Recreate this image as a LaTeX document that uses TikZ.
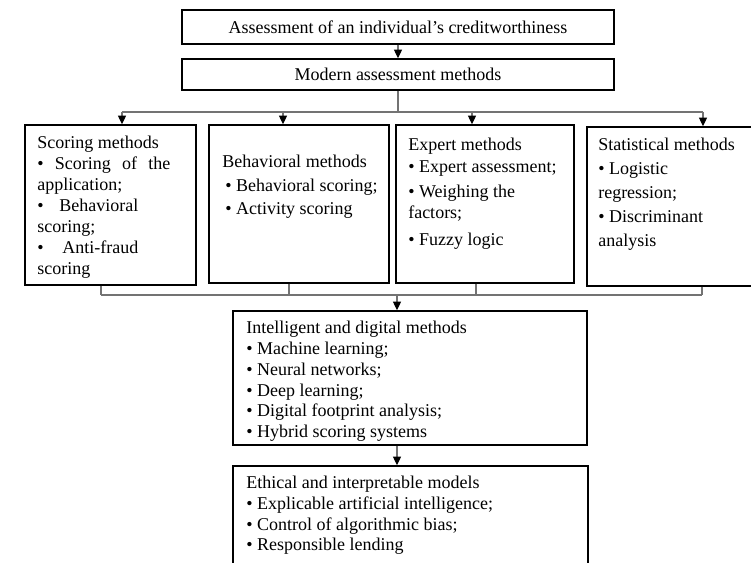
\documentclass[tikz,border=0pt]{standalone}
\usepackage{fontspec}
\setmainfont{Liberation Serif}
\usetikzlibrary{arrows.meta}
\begin{document}
\begin{tikzpicture}[x=0.75pt,y=-0.75pt,
  box/.style={draw=black, line width=1.1pt, inner sep=0pt, fill=white},
  conn/.style={draw=black!55, line width=0.9pt},
  arr/.style={conn, -{Triangle[color=black,length=6.5pt,width=6pt]}},
  txt/.style={anchor=north west, inner sep=0pt, align=left, font=\fontsize{13.5}{15.75}\selectfont},
  ctxt/.style={inner sep=0pt, font=\fontsize{13.5}{15}\selectfont},
]
\useasboundingbox (0,0) rectangle (751,562);
\clip (0,0) rectangle (751,562);
\fill[white] (0,0) rectangle (751,562);

% boxes
\node[box, minimum width=324pt, minimum height=25.5pt] (top) at (398,27) {};
\node[box, minimum width=324pt, minimum height=23.25pt] (modern) at (398,74.5) {};
\node[box, minimum width=128.25pt, minimum height=120pt] (A) at (110.5,205) {};
\node[box, minimum width=135pt, minimum height=118.5pt] (B) at (299,204) {};
\node[box, minimum width=133.5pt, minimum height=118.5pt] (C) at (485,204) {};
\node[box, minimum width=137.25pt, minimum height=119.25pt] (D) at (678.5,206.5) {};
\node[box, minimum width=265.5pt, minimum height=100.5pt] (E) at (410,378) {};
\node[box, minimum width=266.25pt, minimum height=100.5pt] (F) at (410.5,533) {};

% texts
\node[ctxt] (toptxt) at (top) {Assessment of an individual’s creditworthiness};
\node[ctxt] (modtxt) at (modern) {Modern assessment methods};

\node[txt] (Atxt) at (37,136) {Scoring methods\\
\makebox[99.75pt][s]{\textbullet\ Scoring of the}\\
application;\\
\makebox[75.75pt][s]{\textbullet\ \ Behavioral}\\
scoring;\\
\makebox[75.75pt][s]{\textbullet\ \ Anti-fraud}\\
scoring};

\node[txt, font=\fontsize{13.5}{17.6}\selectfont] (Btxt) at (222,155) {Behavioral methods\\
\,\textbullet\ Behavioral scoring;\\
\,\textbullet\ Activity scoring};

\node[txt] (Ctxt) at (408,138) {Expert methods\\[0.75pt]
\textbullet\ Expert assessment;\\[3pt]
\textbullet\ Weighing the\\
factors;\\[4.5pt]
\textbullet\ Fuzzy logic};

\node[txt, font=\fontsize{13.5}{18}\selectfont] (Dtxt) at (598,138) {Statistical methods\\
\textbullet\ Logistic\\
regression;\\
\textbullet\ Discriminant\\
analysis};

\node[txt, font=\fontsize{13.5}{15.6}\selectfont] (Etxt) at (246,321) {Intelligent and digital methods\\
\textbullet\ Machine learning;\\
\textbullet\ Neural networks;\\
\textbullet\ Deep learning;\\
\textbullet\ Digital footprint analysis;\\
\textbullet\ Hybrid scoring systems};

\node[txt, font=\fontsize{13.5}{15.5}\selectfont] (Ftxt) at (246,476) {Ethical and interpretable models\\
\textbullet\ Explicable artificial intelligence;\\
\textbullet\ Control of algorithmic bias;\\
\textbullet\ Responsible lending};

% connectors top
\draw[arr] (top) -- (modern);
\coordinate (b1) at (122,112);
\coordinate (b2) at (283,112);
\coordinate (b3) at (472,112);
\coordinate (b4) at (703,112);
\draw[conn] (modern.south) -- (modern.south |- b1);
\draw[conn] (b1) -- (b4);
\draw[arr] (b1) -- (b1 |- A.north);
\draw[arr] (b2) -- (b2 |- B.north);
\draw[arr] (b3) -- (b3 |- C.north);
\draw[arr] (b4) -- (b4 |- D.north);

% connectors bottom
\coordinate (s1) at (101,295);
\coordinate (s2) at (289,295);
\coordinate (s3) at (476,295);
\coordinate (s4) at (702,295);
\coordinate (m) at (397,295);
\draw[conn] (s1 |- A.south) -- (s1);
\draw[conn] (s2 |- B.south) -- (s2);
\draw[conn] (s3 |- C.south) -- (s3);
\draw[conn] (s4 |- D.south) -- (s4);
\draw[conn] (s1) -- (s4);
\draw[arr] (m) -- (m |- E.north);
\draw[arr] (m |- E.south) -- (m |- F.north);
\end{tikzpicture}
\end{document}
